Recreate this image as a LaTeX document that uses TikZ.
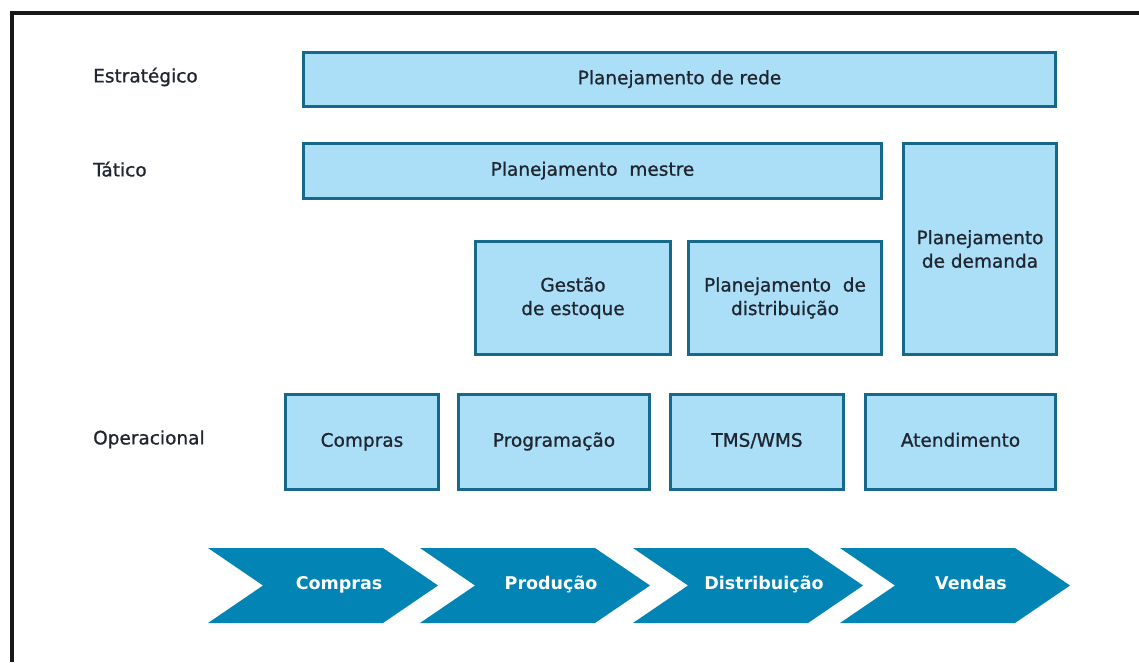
\documentclass[tikz,border=0pt]{standalone}
\usepackage{fontspec}
\setmainfont{DejaVu Sans}
\newfontfamily\medfont{DejaVu Sans}[BoldFont={DejaVu Sans}, BoldFeatures={FakeBold=0.9}]
\definecolor{boxfill}{HTML}{ABDFF7}
\definecolor{boxline}{HTML}{17698B}
\definecolor{chev}{HTML}{0284B5}
\definecolor{txt}{HTML}{1F2630}
\begin{document}
\begin{tikzpicture}[x=1pt,y=-1pt,
  box/.style={draw=boxline, fill=boxfill, line width=3pt, inner sep=0pt,
    align=center, text=txt, font=\medfont\bfseries\fontsize{18.5}{23.5}\selectfont},
  lvl/.style={anchor=west, text=txt, font=\medfont\bfseries\fontsize{18.5}{22}\selectfont, inner sep=0pt},
  chevtxt/.style={text=white, font=\bfseries\fontsize{17.5}{21}\selectfont, inner sep=0pt}]
\useasboundingbox (0,0) rectangle (1139,662);
\fill[white] (0,0) rectangle (1139,662);
% frame
\draw[line width=4pt, draw=black!90] (12,662) -- (12,13) -- (1139,13);
% level labels
\node[lvl] (lest) at (93,78) {\strut Estratégico};
\node[lvl] (ltat) at (93,172) {\strut Tático};
\node[lvl] (lop) at (93,440) {\strut Operacional};
% boxes
\node[box, minimum width=752pt, minimum height=54pt] (rede) at (679.5,79.5) {\strut Planejamento de rede};
\node[box, minimum width=578pt, minimum height=55pt] (mestre) at (592.5,171) {\strut Planejamento\ \ mestre};
\node[box, minimum width=195pt, minimum height=113pt] (gestao) at (573,298) {Gestão\\de estoque};
\node[box, minimum width=193pt, minimum height=113pt] (distr) at (785,298) {Planejamento\ \ de\\distribuição};
\node[box, minimum width=153pt, minimum height=211pt] (demanda) at (980,249) {Planejamento\\de demanda};
\node[box, minimum width=153pt, minimum height=95pt] (compras) at (362,442) {\strut Compras};
\node[box, minimum width=191pt, minimum height=95pt] (prog) at (554,442) {\strut Programação};
\node[box, minimum width=173pt, minimum height=95pt] (tms) at (757,442) {\strut TMS/WMS};
\node[box, minimum width=190pt, minimum height=95pt] (atend) at (960.5,442) {\strut Atendimento};
% chevrons
\foreach \L/\nm/\t in {208/c1/Compras, 420/c2/Produção, 633/c3/Distribuição, 840/c4/Vendas}{
  \fill[chev] (\L,548) -- ++(175,0) -- ++(55,37.5) -- ++(-55,37.5) -- ++(-175,0) -- ++(55,-37.5) -- cycle;
  \node[chevtxt] (\nm) at (\L+131,585) {\strut\t};
}
\end{tikzpicture}
\end{document}
